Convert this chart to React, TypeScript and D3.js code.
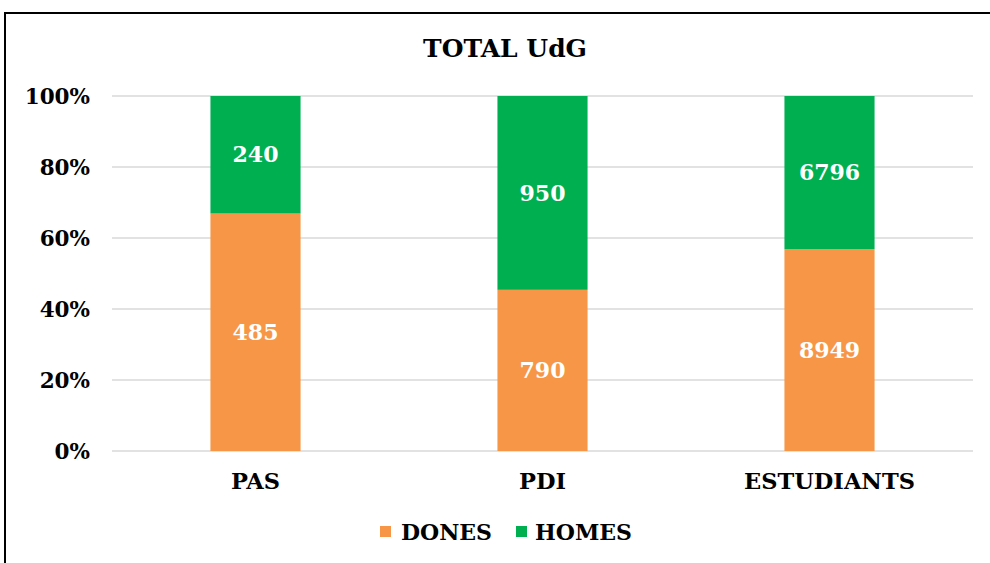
import React from "react";
import * as d3 from "d3";

const categories = ["PAS", "PDI", "ESTUDIANTS"];
const dones = [485, 790, 8949];
const homes = [240, 950, 6796];
const seriesNames = ["DONES", "HOMES"];
const seriesColors = ["#F79646", "#00B050"];
const yTicks = [0, 0.2, 0.4, 0.6, 0.8, 1];
const title = "TOTAL UdG";

const W = 990;
const H = 563;
const FONT = "'DejaVu Serif', serif";

export default function App() {
  const x = d3.scaleBand<string>().domain(categories).range([112, 973]).paddingInner(0.686).paddingOuter(0.343);
  const y = d3.scaleLinear().domain([0, 1]).range([451, 96]);

  const rows = categories.map((c, i) => ({ cat: c, DONES: dones[i], HOMES: homes[i] }));
  const stack = d3.stack<any>().keys(seriesNames).offset(d3.stackOffsetExpand);
  const layers = stack(rows);
  const fmt = d3.format(".0%");

  return (
    <svg width={W} height={H} style={{ position: "absolute", left: 0, top: 0, display: "block" }}>
      <rect x={0} y={0} width={W} height={H} fill="#fff" />
      <rect x={5} y={13} width={W + 10} height={H + 10} fill="#fff" stroke="#000" strokeWidth={2} />
      <text x={505} y={57} textAnchor="middle" fontFamily={FONT} fontWeight="bold" fontSize={25} fill="#000">
        {title}
      </text>
      {yTicks.map((t) => (
        <g key={t}>
          <line x1={112} x2={973} y1={y(t)} y2={y(t)} stroke="#d9d9d9" strokeWidth={1.5} />
          <text x={90} y={y(t)} dy="0.35em" textAnchor="end" fontFamily={FONT} fontWeight="bold" fontSize={21.5} fill="#000">
            {fmt(t)}
          </text>
        </g>
      ))}
      {layers.map((layer, li) => (
        <g key={layer.key}>
          {layer.map((d, i) => {
            const bx = x(categories[i])!;
            const y0 = y(d[0]);
            const y1 = y(d[1]);
            return (
              <g key={i}>
                <rect x={bx} y={y1} width={x.bandwidth()} height={y0 - y1} fill={seriesColors[li]} />
                <text x={bx + x.bandwidth() / 2} y={(y0 + y1) / 2} dy="0.35em" textAnchor="middle" fontFamily={FONT} fontWeight="bold" fontSize={22} fill="#fff">
                  {li === 0 ? dones[i] : homes[i]}
                </text>
              </g>
            );
          })}
        </g>
      ))}
      {categories.map((c) => (
        <text key={c} x={x(c)! + x.bandwidth() / 2} y={481} dy="0.35em" textAnchor="middle" fontFamily={FONT} fontWeight="bold" fontSize={22.5} fill="#000">
          {c}
        </text>
      ))}
      <g>
        <rect x={380} y={526} width={11} height={11} fill={seriesColors[0]} />
        <text x={401} y={532} dy="0.35em" fontFamily={FONT} fontWeight="bold" fontSize={22} fill="#000">
          {seriesNames[0]}
        </text>
        <rect x={516} y={526} width={11} height={11} fill={seriesColors[1]} />
        <text x={535} y={532} dy="0.35em" fontFamily={FONT} fontWeight="bold" fontSize={22} fill="#000">
          {seriesNames[1]}
        </text>
      </g>
    </svg>
  );
}
